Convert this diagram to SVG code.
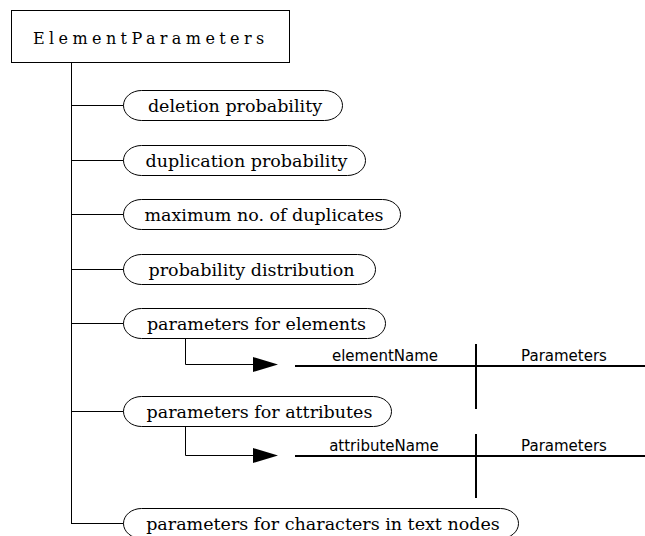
<svg xmlns="http://www.w3.org/2000/svg" width="645" height="536" viewBox="0 0 645 536">
<style>
.ln{stroke:#000;stroke-width:1;fill:none}
.pill{fill:#fff;stroke:#000;stroke-width:1}
.tl{stroke:#000;stroke-width:2;fill:none}
</style>
<defs>
<marker id="ah" markerWidth="25" markerHeight="16" refX="0" refY="7.5" orient="auto" markerUnits="userSpaceOnUse">
<path d="M0,0 L25,7.5 L0,15 Z" fill="#000"/>
</marker>
</defs>
<rect width="645" height="536" fill="#fff"/>
<g id="connectors">
<path class="ln" d="M71.5,62 V523.5"/>
<path class="ln" d="M71,105.5 H124"/>
<path class="ln" d="M71,160.5 H124"/>
<path class="ln" d="M71,214.5 H124"/>
<path class="ln" d="M71,269.5 H124"/>
<path class="ln" d="M71,323.5 H124"/>
<path class="ln" d="M71,411.5 H124"/>
<path class="ln" d="M71,523.5 H124"/>
<path class="ln" d="M185.5,338 V364.5 H253" marker-end="url(#ah)"/>
<path class="ln" d="M185.5,426 V455.5 H253" marker-end="url(#ah)"/>
</g>
<g id="ElementParameters">
<rect x="11.5" y="10.5" width="278" height="52" fill="#fff" stroke="#000"/>
<text x="33" y="44" font-family="DejaVu Serif, serif" font-size="16" letter-spacing="4.4">ElementParameters</text>
</g>
<g font-family="DejaVu Serif, serif" font-size="17.5" text-anchor="middle">
<g id="deletion">
<rect class="pill" x="123.5" y="90.5" width="219" height="30" rx="18" ry="15"/>
<text x="235" y="112">deletion probability</text>
</g>
<g id="duplication">
<rect class="pill" x="123.5" y="145.5" width="242" height="30" rx="18" ry="15"/>
<text x="246.5" y="167">duplication probability</text>
</g>
<g id="maximum">
<rect class="pill" x="123.5" y="199.5" width="277" height="30" rx="18" ry="15"/>
<text x="264" y="221">maximum no. of duplicates</text>
</g>
<g id="distribution">
<rect class="pill" x="123.5" y="254.5" width="252" height="30" rx="18" ry="15"/>
<text x="251.5" y="276">probability distribution</text>
</g>
<g id="elements">
<rect class="pill" x="123.5" y="308.5" width="262" height="30" rx="18" ry="15"/>
<text x="256.5" y="330">parameters for elements</text>
</g>
<g id="attributes">
<rect class="pill" x="123.5" y="396.5" width="268" height="30" rx="18" ry="15"/>
<text x="259.5" y="418">parameters for attributes</text>
</g>
<g id="characters">
<rect class="pill" x="123.5" y="508.5" width="395" height="30" rx="18" ry="15"/>
<text x="323" y="530">parameters for characters in text nodes</text>
</g>
</g>
<g font-family="DejaVu Sans, sans-serif" font-size="15" text-anchor="middle">
<g id="elementTable">
<path class="tl" d="M295,366 H645 M476,344 V409"/>
<text x="385" y="361">elementName</text>
<text x="564" y="361">Parameters</text>
</g>
<g id="attributeTable">
<path class="tl" d="M295,456 H645 M476,434 V498"/>
<text x="384" y="451">attributeName</text>
<text x="564" y="451">Parameters</text>
</g>
</g>
</svg>
